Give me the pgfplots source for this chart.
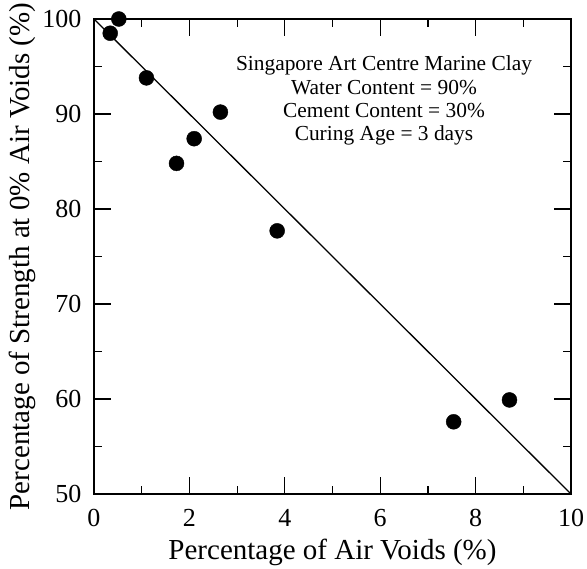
\documentclass[border=0pt]{standalone}
\usepackage{fontspec}
\setmainfont{Liberation Serif}
\usepackage{pgfplots}
\pgfplotsset{compat=1.18}
\begin{document}
\begin{tikzpicture}[x=1pt,y=1pt]
\begin{axis}[
  at={(94pt,75pt)}, anchor=south west,
  scale only axis, width=477pt, height=475pt,
  xmin=0, xmax=10, ymin=50, ymax=100,
  xtick={0,2,...,10}, ytick={50,60,...,100},
  minor xtick={1,3,5,7,9}, minor ytick={55,65,75,85,95},
  tick align=inside,
  major tick length=17pt, minor tick length=8pt,
  tick style={line width=1.2pt, black},
  axis line style={line width=1.6pt},
  /pgf/number format/assume math mode=true,
  ticklabel style={font=\fontsize{26}{30}\selectfont},
  xticklabel style={anchor=center, yshift=-24pt},
  yticklabel style={anchor=east, xshift=-9pt},
  label style={font=\fontsize{29}{34}\selectfont},
  xlabel={Percentage of Air Voids (\%)},
  ylabel={Percentage of Strength at 0\% Air Voids (\%)},
  xlabel style={at={(axis description cs:0.5,-0.122)}, anchor=center},
  ylabel style={at={(axis description cs:-0.151,0.5)}, anchor=center},
  clip=false,
]
\addplot[black, line width=1.3pt] coordinates {(0,100) (10,50)};
\addplot[only marks, mark=*, mark size=7.5pt, black] coordinates {
  (0.34,98.5) (0.52,100) (1.10,93.8) (1.73,84.8) (2.10,87.4)
  (2.65,90.2) (3.84,77.7) (7.54,57.6) (8.71,59.9)
};
\node[align=center, font=\fontsize{21.4}{23.3}\selectfont] at (axis cs:6.08,91.4)
  {Singapore Art Centre Marine Clay\\Water Content = 90\%\\Cement Content = 30\%\\Curing Age = 3 days};
\end{axis}
\pgfresetboundingbox
\path[use as bounding box] (0,0) rectangle (587,569);
\end{tikzpicture}
\end{document}
